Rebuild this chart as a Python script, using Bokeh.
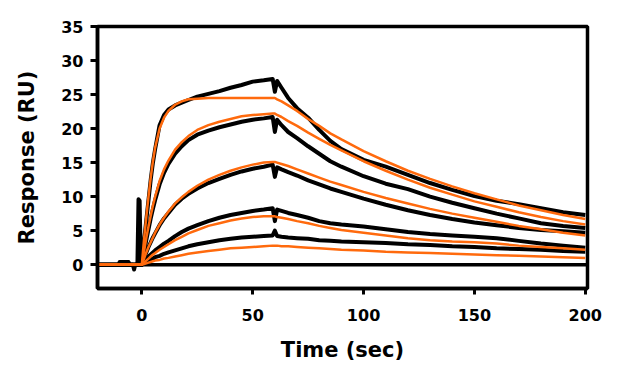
from bokeh.plotting import figure
from bokeh.models import Range1d, FixedTicker
from bokeh.embed import file_html
from bokeh.resources import INLINE

# ---- data ----
# time points of the measured (black) sensorgrams, seconds
t_black = [-20, -10.5, -10, -6, -5.5, -4, -3.5, -3, -2, -1.5, -1, -0.5, 0,
           1, 2, 3, 4, 5, 6, 8, 10, 12, 15, 18, 21, 25, 30, 35, 40, 45, 50, 55, 59,
           60,
           61, 63, 66, 70, 75, 80, 85, 90, 100, 110, 120, 130, 140, 150, 160, 170, 180, 190, 200]

black_1 = [0, 0, 0, 0, 0, 0, 0, 0, 0, 9.6, 9.4, 0.8, 0,
           3.5, 6.5, 9.5, 12.5, 15.0, 17.0, 20.5, 22.0, 22.8, 23.4, 23.8, 24.2, 24.7, 25.1, 25.5, 26.0, 26.4, 26.9, 27.1, 27.3,
           25.4,
           27.0, 26.0, 24.5, 23.0, 21.6, 19.8, 18.2, 17.0, 15.4, 14.4, 13.2, 12.0, 11.0, 10.1, 9.4, 8.9, 8.3, 7.7, 7.3]
black_2 = [0, 0, 0, 0, 0, 0, -0.7, 0, 0, 0, 0, 0, 0,
           1.8, 3.6, 5.2, 6.8, 8.2, 9.5, 11.8, 13.5, 14.8, 16.3, 17.4, 18.3, 19.1, 19.7, 20.2, 20.6, 21.0, 21.3, 21.5, 21.7,
           19.5,
           21.3, 20.5, 19.5, 18.6, 17.4, 16.3, 15.2, 14.4, 13.0, 11.9, 11.1, 10.0, 9.1, 8.3, 7.5, 6.8, 6.1, 5.7, 5.4]
black_3 = [0, 0, 0.4, 0.4, 0, 0, 0, 0, 0, 0, 0, 0, 0,
           0.9, 1.8, 2.6, 3.3, 4.0, 4.6, 5.8, 6.8, 7.6, 8.8, 9.7, 10.4, 11.2, 12.0, 12.6, 13.2, 13.7, 14.1, 14.4, 14.7,
           12.9,
           14.3, 14.0, 13.6, 13.1, 12.4, 11.8, 11.2, 10.7, 9.7, 8.8, 8.0, 7.3, 6.7, 6.2, 5.8, 5.4, 5.1, 4.9, 4.7]
black_4 = [0, 0, 0, 0, 0, 0, 0, 0, 0, 0, 0, 0, 0,
           0.4, 0.8, 1.2, 1.5, 1.8, 2.1, 2.6, 3.1, 3.5, 4.2, 4.8, 5.3, 5.8, 6.4, 6.9, 7.3, 7.6, 7.9, 8.1, 8.3,
           6.4,
           8.1, 7.9, 7.6, 7.3, 6.9, 6.4, 6.1, 5.9, 5.6, 5.2, 4.8, 4.5, 4.3, 4.1, 3.9, 3.5, 3.1, 2.8, 2.5]
black_5 = [0, 0, 0, 0, 0, 0, 0, 0, 0, 0, 0, 0, 0,
           0.2, 0.4, 0.6, 0.8, 0.9, 1.1, 1.3, 1.6, 1.8, 2.1, 2.4, 2.7, 3.0, 3.3, 3.6, 3.8, 4.0, 4.1, 4.2, 4.3,
           5.0,
           4.2, 4.1, 4.0, 3.9, 3.8, 3.6, 3.5, 3.4, 3.3, 3.2, 3.0, 2.9, 2.7, 2.6, 2.4, 2.3, 2.2, 2.0, 1.9]

# buffer (zero) trace
t_blank = [-20, 0, 100, 201]
blank = [0, 0, 0, 0]

# time points of the fitted (orange) curves
t_fit = [-20, 0,
         1, 2, 3, 4, 5, 6, 8, 10, 12, 15, 18, 21, 25, 30, 35, 40, 45, 50, 55, 59,
         60,
         61, 63, 66, 70, 75, 80, 85, 90, 100, 110, 120, 130, 140, 150, 160, 170, 180, 190, 200]

fit_1 = [0, 0,
         3.8, 7.0, 10.0, 12.8, 15.2, 17.2, 20.0, 21.6, 22.6, 23.5, 24.0, 24.3, 24.4, 24.5, 24.5, 24.5, 24.5, 24.5, 24.5, 24.5,
         24.5,
         24.3, 24.0, 23.4, 22.6, 21.4, 20.4, 19.3, 18.4, 16.7, 15.2, 13.8, 12.6, 11.5, 10.5, 9.6, 8.7, 8.0, 7.3, 6.7]
fit_2 = [0, 0,
         2.0, 3.9, 5.6, 7.2, 8.7, 10.0, 12.3, 14.0, 15.3, 16.9, 18.0, 18.9, 19.8, 20.5, 21.0, 21.4, 21.8, 22.0, 22.1, 22.2,
         22.2,
         22.0, 21.7, 21.1, 20.4, 19.4, 18.5, 17.6, 16.8, 15.2, 13.8, 12.5, 11.3, 10.3, 9.3, 8.5, 7.7, 7.0, 6.4, 5.9]
fit_3 = [0, 0,
         0.9, 1.8, 2.6, 3.3, 4.0, 4.7, 5.9, 6.9, 7.8, 9.0, 9.9, 10.7, 11.6, 12.5, 13.2, 13.8, 14.3, 14.7, 15.0, 15.1,
         15.1,
         15.0, 14.8, 14.5, 14.0, 13.4, 12.8, 12.2, 11.7, 10.7, 9.8, 9.0, 8.2, 7.5, 6.9, 6.3, 5.7, 5.2, 4.7, 4.3]
fit_4 = [0, 0,
         0.3, 0.6, 0.9, 1.2, 1.5, 1.7, 2.2, 2.6, 3.0, 3.6, 4.1, 4.6, 5.1, 5.7, 6.1, 6.5, 6.8, 7.0, 7.1, 7.1,
         7.1,
         7.0, 6.9, 6.7, 6.4, 6.1, 5.7, 5.4, 5.1, 4.7, 4.3, 3.9, 3.6, 3.4, 3.3, 3.1, 2.8, 2.6, 2.4, 2.2]
fit_5 = [0, 0,
         0.1, 0.2, 0.3, 0.4, 0.5, 0.6, 0.7, 0.9, 1.0, 1.2, 1.4, 1.6, 1.8, 2.0, 2.2, 2.4, 2.5, 2.6, 2.7, 2.8,
         2.8,
         2.8, 2.7, 2.7, 2.6, 2.5, 2.4, 2.3, 2.2, 2.1, 1.9, 1.8, 1.7, 1.6, 1.5, 1.4, 1.3, 1.2, 1.1, 1.0]

x_ticks = [0, 50, 100, 150, 200]
y_ticks = [0, 5, 10, 15, 20, 25, 30, 35]

BLACK = "#000000"
ORANGE = "#FF6A0D"
FONT = "DejaVu Sans"

p = figure(width=617, height=365, output_backend="svg", toolbar_location=None,
           x_range=Range1d(-20, 201), y_range=Range1d(-3.5, 35),
           min_border_left=97, min_border_right=30, min_border_top=26, min_border_bottom=77)

p.line(t_blank, blank, line_color=BLACK, line_width=3.5)
for ys in [black_1, black_2, black_3, black_4, black_5]:
    p.line(t_black, ys, line_color=BLACK, line_width=4, line_join="round")
for ys in [fit_1, fit_2, fit_3, fit_4, fit_5]:
    p.line(t_fit, ys, line_color=ORANGE, line_width=2.5, line_join="round")

p.xgrid.visible = False
p.ygrid.visible = False
p.background_fill_color = "white"
p.border_fill_color = "white"
p.outline_line_color = BLACK
p.outline_line_width = 3.5
p.outline_line_alpha = 1.0

for ax, ticks in ((p.xaxis[0], x_ticks), (p.yaxis[0], y_ticks)):
    ax.ticker = FixedTicker(ticks=ticks)
    ax.minor_tick_line_color = None
    ax.major_tick_in = 0
    ax.axis_line_color = BLACK
    ax.axis_line_width = 3.5
    ax.major_tick_line_color = BLACK
    ax.major_tick_line_width = 3
    ax.major_label_text_font = FONT
    ax.major_label_text_font_style = "bold"
    ax.major_label_text_font_size = "16px"
    ax.major_label_text_color = BLACK
    ax.axis_label_text_font = FONT
    ax.axis_label_text_font_style = "bold"
    ax.axis_label_text_font_size = "21px"
    ax.axis_label_text_color = BLACK

p.xaxis.axis_label = "Time (sec)"
p.yaxis.axis_label = "Response (RU)"
p.xaxis.major_tick_out = 6
p.yaxis.major_tick_out = 7
p.xaxis.major_label_standoff = 14
p.yaxis.major_label_standoff = 7
p.xaxis.axis_label_standoff = 14
p.yaxis.axis_label_standoff = 19

open("out.html", "w").write(file_html(p, INLINE))
